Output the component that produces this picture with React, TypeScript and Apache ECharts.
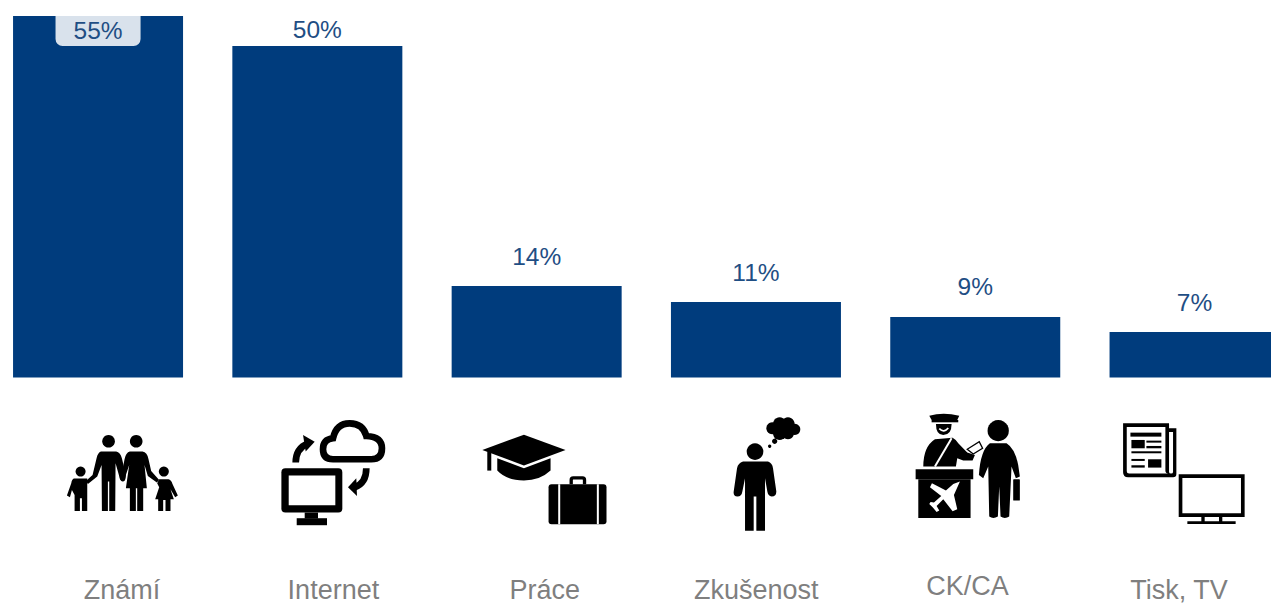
import React, { useEffect, useRef } from "react";
import * as echarts from "echarts";

const categories = ["Známí", "Internet", "Práce", "Zkušenost", "CK/CA", "Tisk, TV"];
const shares = [54.77, 50.23, 13.86, 11.44, 9.17, 6.89];

const BLACK = "#000000";
const WHITE = "#ffffff";

const shapes: Record<string, string> = {
  // family
  famFather: "M303 155 L349 155 Q361 157 366 175 L378 225 Q378 245 368 245 Q360 243 357 225 L347 190 L346 333 L328 333 L328 245 L324 245 L324 333 L306 333 L305 195 L292 230 L264 252 L258 243 L278 225 L290 175 Q294 158 303 155 Z",
  famMother: "M390 155 L428 155 Q442 157 446 178 L454 213 L478 240 L471 248 L444 228 L434 195 L441 265 L430 265 L430 333 L412 333 L412 265 L408 265 L408 333 L390 333 L390 265 L378 265 L388 195 L372 243 L362 240 L374 178 Q378 158 390 155 Z",
  famBoy: "M222 236 L262 236 L262 333 L246 333 L246 295 L240 295 L240 333 L224 333 L224 285 L216 270 L210 292 L201 287 L214 250 Q216 238 222 236 Z",
  famGirl: "M478 238 L506 238 Q514 240 518 252 L534 287 L526 292 L512 268 L522 298 L512 298 L512 333 L497 333 L497 300 L490 300 L490 333 L475 333 L475 298 L466 298 L478 262 L472 250 Z",
  // internet
  netCloud: "M1000 178 Q970 178 970 148 Q970 118 1000 115 Q1010 70 1050 70 Q1090 70 1100 108 Q1147 110 1147 145 Q1147 178 1115 178 Z",
  netArrow1: "M888 188 Q888 145 925 130",
  netHead1: "M910 105 L945 125 L918 155 Z",
  netArrow2: "M1100 205 Q1100 250 1065 262",
  netHead2: "M1070 235 L1045 262 L1072 288 Z",
  // education + work
  capBoard: "M127 150 L252 104 L377 150 L252 197 Z",
  capBase: "M172 175 L252 205 L332 175 L332 212 Q300 242 252 242 Q200 242 172 212 Z",
  capTassel: "M148 155 L148 212",
  caseHandle: "M394 253 L394 240 Q394 234 400 234 L428 234 Q434 234 434 240 L434 253",
  // thinker
  manBody: "M910 185 L985 185 Q998 190 1000 205 L1010 275 Q1010 290 996 290 Q985 288 983 275 L976 235 L976 393 L950 393 L950 290 L942 290 L942 393 L916 393 L916 235 L908 275 Q906 290 893 290 Q880 288 882 275 L892 205 Q895 190 910 185 Z",
  // agency
  capTop: "M148 47 Q190 35 238 47 L232 60 L155 60 Z",
  faceBody: "M168 72 L215 72 Q215 105 190 105 Q168 105 168 72 Z",
  smile: "M178 86 Q192 100 205 84",
  torso: "M130 200 Q130 140 165 118 L218 113 Q228 118 235 130 L262 158 L285 165 L278 182 L250 182 L232 175 L228 200 Z",
  strap: "M215 115 L165 200",
  card: "M262 148 L298 125 L308 145 L280 162 Z",
  plane: "M240 245 L222 285 L232 328 L218 334 L190 298 L170 318 L178 332 L170 336 L158 322 L148 312 L152 306 L162 308 L184 288 L150 262 L156 250 L198 272 L220 252 Z",
  traveller: "M330 130 L380 130 Q405 145 415 195 L420 230 L408 235 L395 200 L388 350 Q375 358 362 350 L358 260 L354 350 Q340 358 328 350 L325 200 L310 235 L297 225 Q302 150 330 130 Z",
  // newspaper + tv
  paperOuter: "M730 70 L868 70 L868 85 L890 85 L890 222 Q890 232 880 232 L745 232 Q730 232 730 217 Z",
  paperInner: "M741 81 L857 81 L857 212 Q857 221 866 221 L748 221 Q741 221 741 214 Z",
  paperFold: "M868 96 L880 96 L880 216 Q880 221 874 221 Q868 221 868 216 Z",
  tvStand: "M965 348 L975 348 L975 364 L1018 364 L1018 348 L1028 348 L1028 364 L1068 364 L1068 372 L923 372 L923 364 L965 364 Z",
};
Object.entries(shapes).forEach(([name, d]) => {
  echarts.graphic.registerShape(name, echarts.graphic.extendPath(d, {}) as any);
});

const fill = (type: string, color = BLACK) => ({ type, style: { fill: color } });
const line = (type: string, lineWidth: number, stroke = BLACK, extra: object = {}) => ({
  type,
  style: { fill: "none", stroke, lineWidth, ...extra },
});
const circle = (cx: number, cy: number, r: number, color = BLACK) => ({
  type: "circle",
  shape: { cx, cy, r },
  style: { fill: color },
});
const rect = (x: number, y: number, width: number, height: number, color = BLACK, r = 0) => ({
  type: "rect",
  shape: { x, y, width, height, r },
  style: { fill: color },
});
const layer = (x: number, y: number, children: any[]) => ({
  type: "group",
  x,
  y,
  scaleX: 1 / 3,
  scaleY: 1 / 3,
  silent: true,
  children,
});

const icons = [
  layer(0, 400, [
    circle(326, 124, 19), circle(409, 124, 19), circle(242, 215, 15), circle(492, 215, 15),
    fill("famFather"), fill("famMother"), fill("famBoy"), fill("famGirl"),
    line("netCloud", 20),
    line("netArrow1", 20), fill("netHead1"), line("netArrow2", 20), fill("netHead2"),
    rect(845, 205, 183, 133, BLACK, 12), rect(867, 227, 140, 89, WHITE),
    rect(915, 338, 40, 18), rect(891, 355, 91, 21),
  ]),
  layer(440, 400, [
    fill("capBoard"), fill("capBase"), line("capTassel", 12),
    line("caseHandle", 10), rect(326, 253, 174, 120, BLACK, 9),
    rect(355, 253, 6, 120, WHITE), rect(471, 253, 6, 120, WHITE),
    circle(946, 155, 25), fill("manBody"),
    circle(990, 139, 5), circle(1005, 124, 8),
    circle(998, 85, 18), circle(1020, 72, 20), circle(1045, 72, 20),
    circle(1065, 88, 17), circle(1045, 100, 18), circle(1020, 100, 20),
  ]),
  layer(880, 400, [
    fill("capTop"), rect(155, 60, 80, 7), fill("faceBody"), line("smile", 5, WHITE),
    fill("torso"), line("strap", 6, WHITE), {
      type: "card",
      style: { fill: WHITE, stroke: BLACK, lineWidth: 4 },
    },
    rect(107, 208, 173, 30), rect(115, 238, 157, 116),
    fill("plane", WHITE),
    circle(355, 92, 32), fill("traveller"), rect(400, 238, 20, 64, BLACK, 2),
    fill("paperOuter"), fill("paperInner", WHITE), fill("paperFold", WHITE),
    rect(752, 98, 93, 12), rect(755, 120, 40, 25), rect(800, 122, 45, 6), rect(800, 138, 45, 7),
    rect(755, 154, 90, 6), rect(755, 177, 40, 6), rect(755, 196, 40, 7), rect(805, 178, 40, 25),
    rect(897, 223, 198, 128), rect(908, 234, 176, 106, WHITE), fill("tvStand"),
  ]),
];

const baseLabel = {
  show: true,
  color: "#1F4E84",
  fontFamily: "Liberation Sans",
  fontSize: 24.5,
  formatter: (p: any) => `${Math.round(p.value)}%`,
};

const boxedLabel = {
  ...baseLabel,
  distance: 0,
  lineHeight: 28,
  padding: [0, 18, 2, 18],
  backgroundColor: "rgba(255,255,255,0.85)",
  borderRadius: [0, 0, 7, 7],
};

const pointLabels = shares.map((_, i) => {
  if (i === 0) return { ...boxedLabel, position: "insideTop" };
  if (i === 1) return { ...boxedLabel, position: "top" };
  return { ...baseLabel, position: "top", distance: 17.5 };
});

export default function App() {
  const ref = useRef<HTMLDivElement>(null);
  useEffect(() => {
    const chart = echarts.init(ref.current!, null, { renderer: "svg" });
    chart.setOption({
      animation: false,
      backgroundColor: "#ffffff",
      grid: [
        { left: -11.6, top: 0, width: 1315.8, height: 377.5, outerBoundsMode: "none" },
        { left: 16.3, top: 560, width: 1268.4, height: 10, outerBoundsMode: "none" },
      ],
      xAxis: [
        {
          gridIndex: 0,
          type: "category",
          data: categories,
          axisLine: { show: false },
          axisTick: { show: false },
          axisLabel: { show: false },
        },
        {
          gridIndex: 1,
          type: "category",
          data: categories.map((value) =>
            value === "CK/CA" ? { value, textStyle: { lineHeight: 16 } } : value,
          ),
          axisLine: { show: false },
          axisTick: { show: false },
          axisLabel: {
            show: true,
            interval: 0,
            hideOverlap: false,
            margin: 8,
            lineHeight: 24,
            color: "#7F7F7F",
            fontFamily: "Liberation Sans",
            fontSize: 27,
          },
        },
      ],
      yAxis: [
        { gridIndex: 0, type: "value", min: 0, max: 57.2, show: false },
        { gridIndex: 1, type: "value", min: 0, max: 1, show: false },
      ],
      series: [
        {
          type: "bar",
          xAxisIndex: 0,
          yAxisIndex: 0,
          barWidth: 170,
          itemStyle: { color: "#003C7D" },
          data: shares.map((value, i) => ({ value, label: pointLabels[i] })),
          silent: true,
        },
      ],
      graphic: { elements: icons },
    });
    return () => chart.dispose();
  }, []);
  return (
    <div
      ref={ref}
      style={{ position: "absolute", left: 0, top: 0, width: 1271, height: 605, overflow: "hidden" }}
    />
  );
}
